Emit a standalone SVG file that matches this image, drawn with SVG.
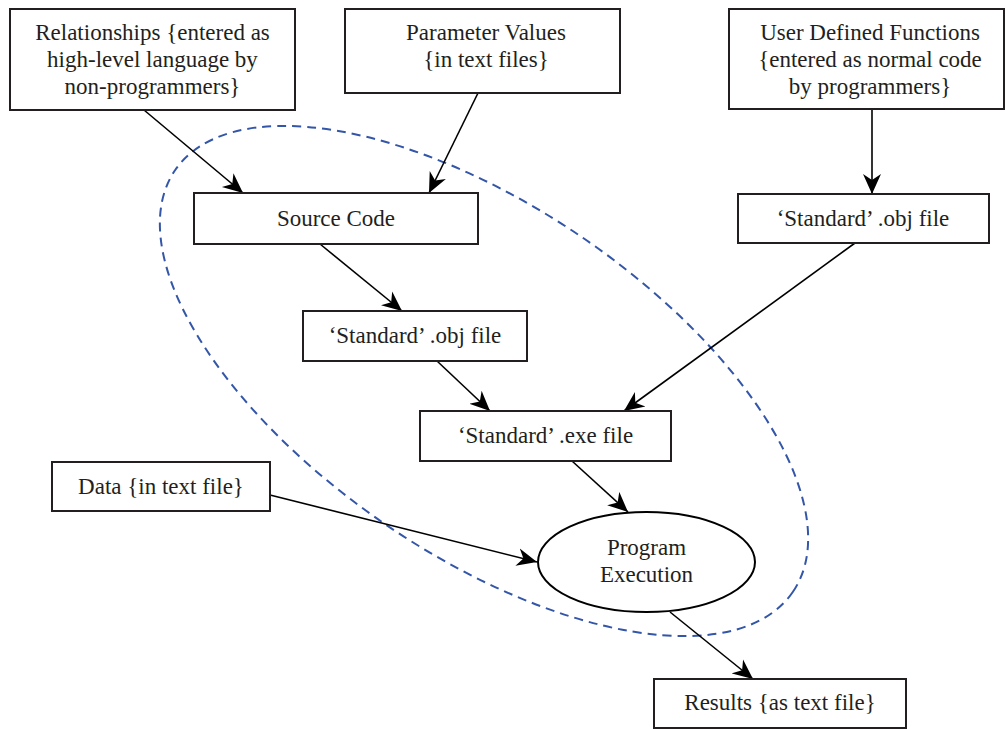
<svg xmlns="http://www.w3.org/2000/svg" width="1005" height="729" viewBox="0 0 1005 729">
<style>
  .box { fill: #ffffff; stroke: #231f20; stroke-width: 2; }
  .conn { stroke: #000000; stroke-width: 1.6; fill: none; }
  .boundary { fill: none; stroke: #3356a8; stroke-width: 2; stroke-dasharray: 9 6; }
</style>
<defs>
  <marker id="arr" markerUnits="userSpaceOnUse" markerWidth="20" markerHeight="20" viewBox="0 0 20 20" refX="20" refY="10" orient="auto">
    <path d="M20,10 L0,1 L6,10 L0,19 Z" fill="#000000"/>
  </marker>
</defs>
<rect width="1005" height="729" fill="#ffffff"/>

<g id="boundary">
  <ellipse class="boundary" cx="0" cy="0" rx="374" ry="174" transform="translate(484 381) rotate(34.3)"/>
</g>

<g id="connectors">
  <line class="conn" marker-end="url(#arr)" x1="144" y1="110" x2="243" y2="193"/>
  <line class="conn" marker-end="url(#arr)" x1="478" y1="93" x2="429" y2="193"/>
  <line class="conn" marker-end="url(#arr)" x1="872" y1="109" x2="872" y2="194"/>
  <line class="conn" marker-end="url(#arr)" x1="320" y1="244" x2="402" y2="311"/>
  <line class="conn" marker-end="url(#arr)" x1="437" y1="361" x2="490" y2="411"/>
  <line class="conn" marker-end="url(#arr)" x1="855" y1="243" x2="624" y2="411"/>
  <line class="conn" marker-end="url(#arr)" x1="572" y1="461" x2="628" y2="512"/>
  <line class="conn" marker-end="url(#arr)" x1="270" y1="495" x2="537" y2="562"/>
  <line class="conn" marker-end="url(#arr)" x1="670" y1="612" x2="753" y2="679"/>
</g>

<g id="relationships">
  <rect class="box" x="10" y="9" width="285" height="101"/>
  <text font-family="Times New Roman, Liberation Serif, serif" font-size="23" fill="#231f20" text-anchor="middle" x="152.5" y="40">Relationships {entered as</text>
  <text font-family="Times New Roman, Liberation Serif, serif" font-size="23" fill="#231f20" text-anchor="middle" x="152.5" y="67">high-level language by</text>
  <text font-family="Times New Roman, Liberation Serif, serif" font-size="23" fill="#231f20" text-anchor="middle" x="152.5" y="94">non-programmers}</text>
</g>

<g id="parameters">
  <rect class="box" x="345" y="9" width="275" height="84"/>
  <text font-family="Times New Roman, Liberation Serif, serif" font-size="23" fill="#231f20" text-anchor="middle" x="486" y="40">Parameter Values</text>
  <text font-family="Times New Roman, Liberation Serif, serif" font-size="23" fill="#231f20" text-anchor="middle" x="486" y="67">{in text files}</text>
</g>

<g id="udf">
  <rect class="box" x="729" y="9" width="275" height="100"/>
  <text font-family="Times New Roman, Liberation Serif, serif" font-size="23" fill="#231f20" text-anchor="middle" x="870" y="40">User Defined Functions</text>
  <text font-family="Times New Roman, Liberation Serif, serif" font-size="23" fill="#231f20" text-anchor="middle" x="870" y="67">{entered as normal code</text>
  <text font-family="Times New Roman, Liberation Serif, serif" font-size="23" fill="#231f20" text-anchor="middle" x="870" y="94">by programmers}</text>
</g>

<g id="source-code">
  <rect class="box" x="194" y="193" width="284" height="51"/>
  <text font-family="Times New Roman, Liberation Serif, serif" font-size="23" fill="#231f20" text-anchor="middle" x="336" y="226">Source Code</text>
</g>

<g id="obj-udf">
  <rect class="box" x="738" y="194" width="251" height="49"/>
  <text font-family="Times New Roman, Liberation Serif, serif" font-size="23" fill="#231f20" text-anchor="middle" x="863" y="226">‘Standard’ .obj file</text>
</g>

<g id="obj-std">
  <rect class="box" x="303" y="311" width="224" height="50"/>
  <text font-family="Times New Roman, Liberation Serif, serif" font-size="23" fill="#231f20" text-anchor="middle" x="415" y="343">‘Standard’ .obj file</text>
</g>

<g id="exe">
  <rect class="box" x="420" y="411" width="251" height="50"/>
  <text font-family="Times New Roman, Liberation Serif, serif" font-size="23" fill="#231f20" text-anchor="middle" x="545.5" y="443">‘Standard’ .exe file</text>
</g>

<g id="data">
  <rect class="box" x="52" y="462" width="218" height="49"/>
  <text font-family="Times New Roman, Liberation Serif, serif" font-size="23" fill="#231f20" text-anchor="middle" x="161" y="494">Data {in text file}</text>
</g>

<g id="program-execution">
  <ellipse cx="646.5" cy="562" rx="108.5" ry="50" fill="#ffffff" stroke="#000000" stroke-width="2"/>
  <text font-family="Times New Roman, Liberation Serif, serif" font-size="23" fill="#231f20" text-anchor="middle" x="646.5" y="555">Program</text>
  <text font-family="Times New Roman, Liberation Serif, serif" font-size="23" fill="#231f20" text-anchor="middle" x="646.5" y="582">Execution</text>
</g>

<g id="results">
  <rect class="box" x="654" y="679" width="252" height="49"/>
  <text font-family="Times New Roman, Liberation Serif, serif" font-size="23" fill="#231f20" text-anchor="middle" x="780" y="710">Results {as text file}</text>
</g>
</svg>
